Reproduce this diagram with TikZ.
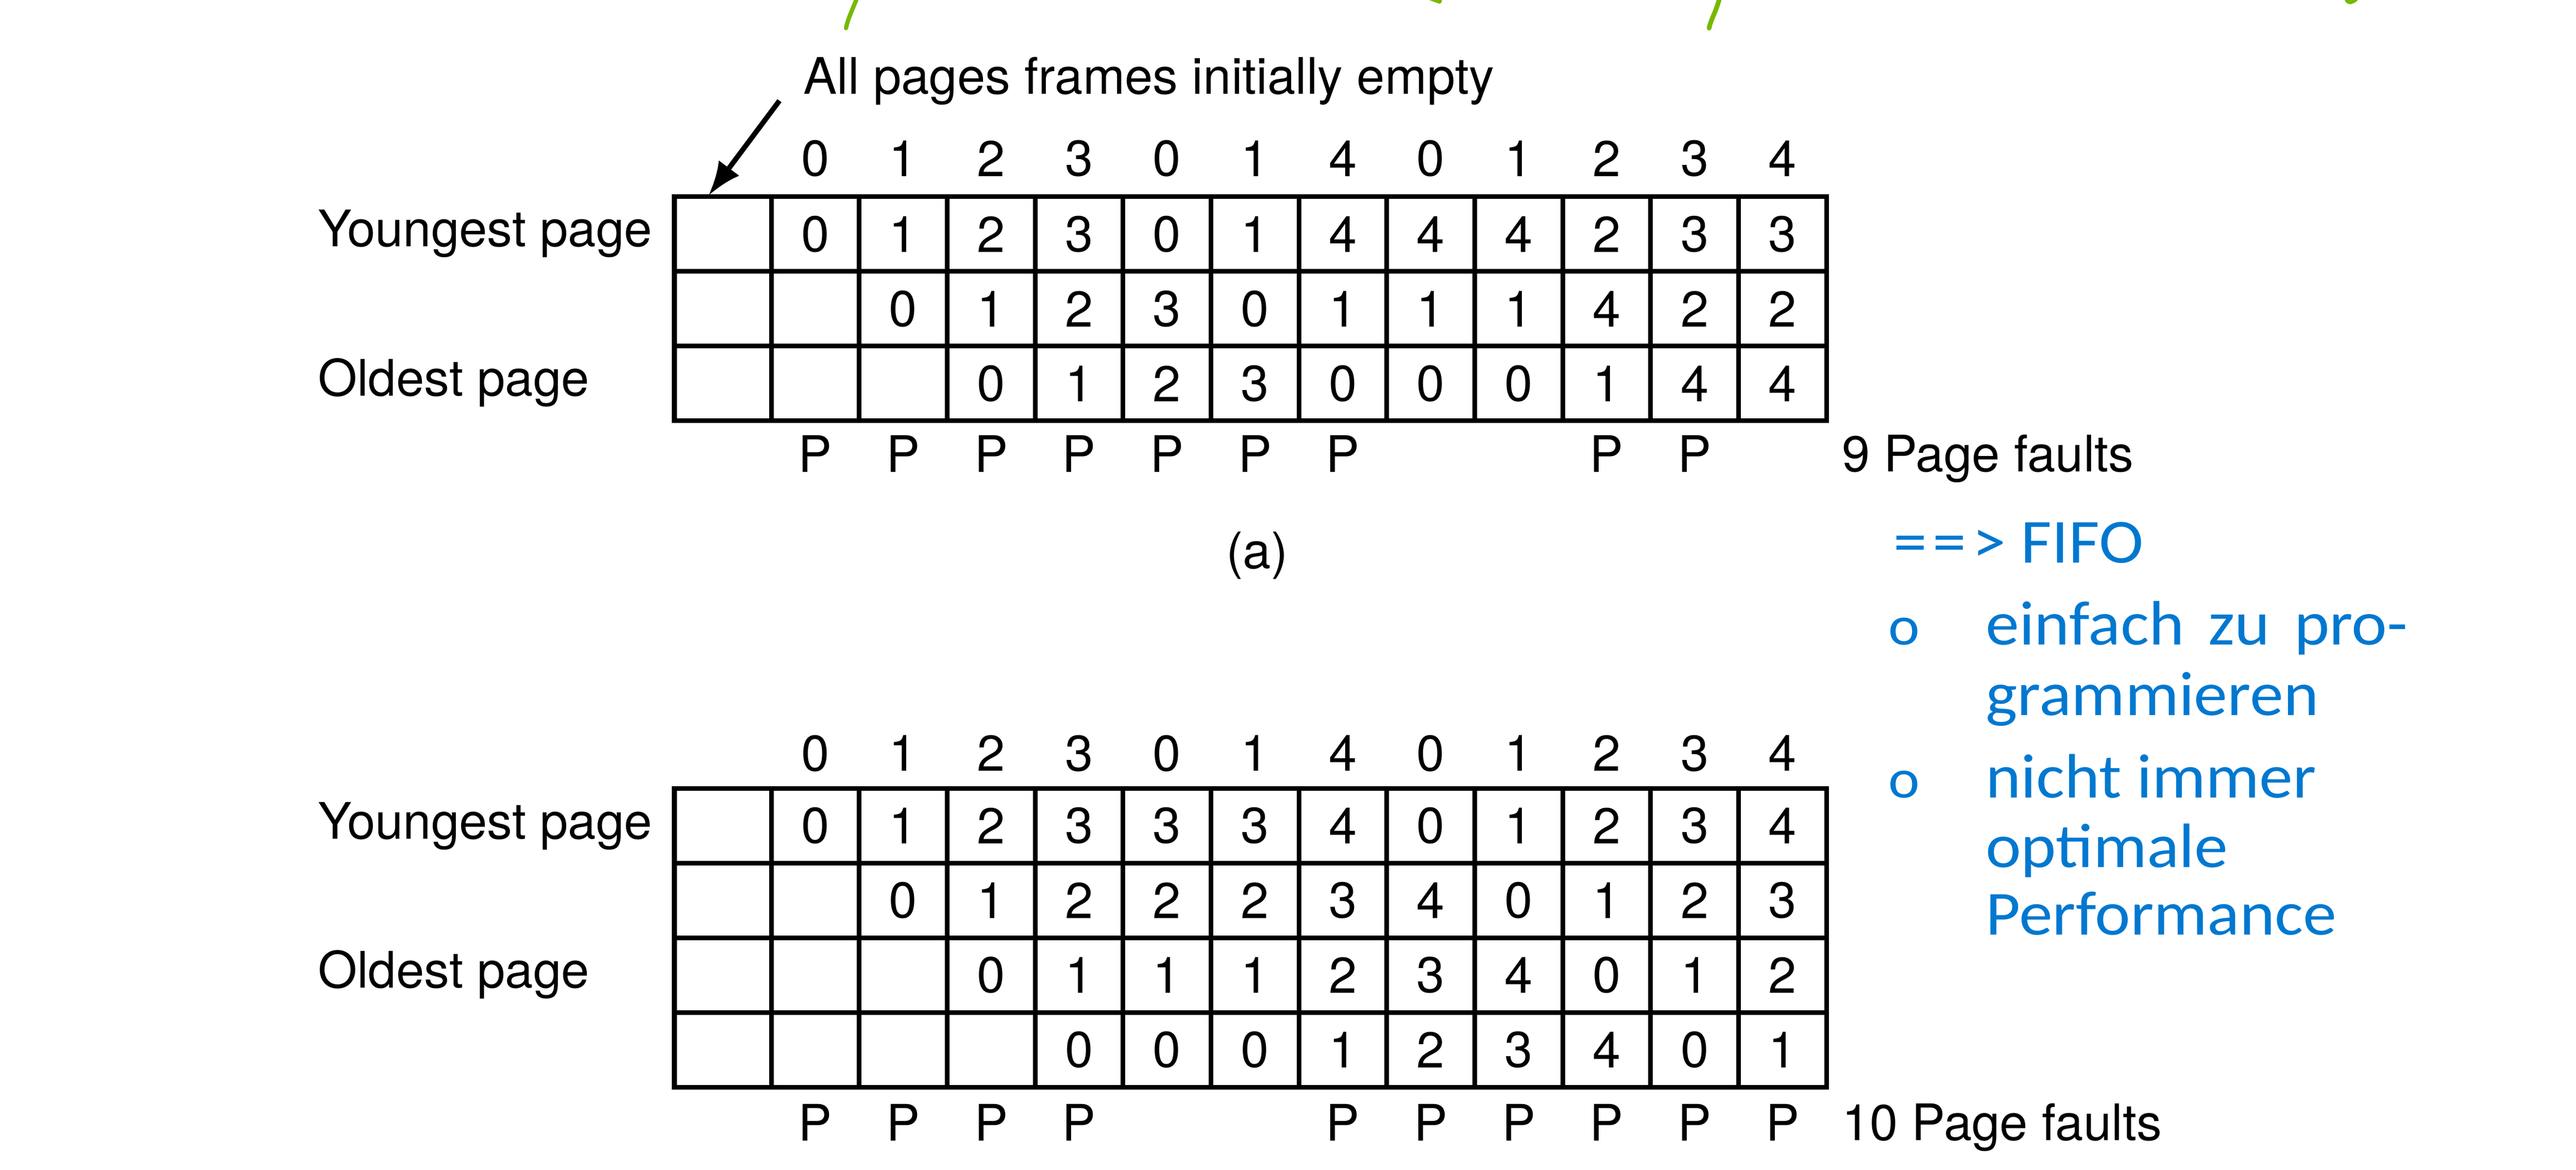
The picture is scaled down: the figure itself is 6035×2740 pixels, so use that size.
\documentclass[tikz,border=0pt]{standalone}
\usepackage{fontspec}
\setmainfont{TeX Gyre Heros}
\newfontfamily\bluefont[FakeStretch=1.07]{Carlito}
\usetikzlibrary{arrows.meta}
\definecolor{fifoblue}{RGB}{0,120,208}
\definecolor{markgreen}{RGB}{118,185,0}
\begin{document}
\begin{tikzpicture}[x=0.1pt,y=-0.1pt,
  grid/.style={line width=1.1pt, line join=miter},
  num/.style={inner sep=0pt, font=\fontsize{11.8}{14}\selectfont},
  lbl/.style={inner sep=0pt, anchor=base west, font=\fontsize{11.8}{14}\selectfont},
  bluetxt/.style={inner sep=0pt, anchor=base west, text=fifoblue, font=\fontsize{14.7}{17}\bluefont},
  bulletmark/.style={inner sep=0pt, anchor=base west, text=fifoblue, font=\fontsize{13}{15}\bluefont},
  greenmark/.style={fill=markgreen, draw=none},
  greenline/.style={draw=markgreen, line cap=round}]
\useasboundingbox (0,0) rectangle (6035,2740);
\clip (0,0) rectangle (6035,2740);

% green annotation strokes (cut off at the top)
\draw[greenline, line width=1pt] (2010,-10) .. controls (1996,25) and (1986,45) .. (1982,66);
\fill[greenmark] (3348,0) -- (3378,0) .. controls (3378,5) .. (3373,9) .. controls (3364,6) .. cycle;
\draw[greenline, line width=1.1pt] (4030,-10) .. controls (4020,30) and (4008,45) .. (4004,66);
\fill[greenmark] (5493,0) -- (5524,0) .. controls (5518,6) .. (5507,10) .. controls (5497,8) .. cycle;

% ---------------- table (a) ----------------
\node[lbl] (atitle) at (1880,220) {All pages frames initially empty};
\coordinate (arrs) at (1826,236);
\coordinate (arre) at (1660,458);
\draw[line width=1.2pt, -{Latex[length=8pt,width=6pt]}] (arrs) -- (arre);

\draw[grid] (1580,461) rectangle (4279,986);
\draw[grid] (1580,636) -- (4279,636) (1580,811) -- (4279,811);
\draw[grid] (1807,461) -- (1807,986);
\foreach \k in {1,...,11} \draw[grid] ({1807+206*\k},461) -- ({1807+206*\k},986);

\node[lbl] (ayoung) at (743,578) {Youngest page};
\node[lbl] (aold) at (743,928) {Oldest page};

\foreach \v [count=\c] in {0,1,2,3,0,1,4,0,1,2,3,4}
  \node[num] (ah\c) at ({1704+206*\c},371) {\v};
\foreach \v [count=\c] in {0,1,2,3,0,1,4,4,4,2,3,3}
  \node[num] (ar1c\c) at ({1704+206*\c},548.5) {\v};
\foreach \v [count=\c from 2] in {0,1,2,3,0,1,1,1,4,2,2}
  \node[num] (ar2c\c) at ({1704+206*\c},723.5) {\v};
\foreach \v [count=\c from 3] in {0,1,2,3,0,0,0,1,4,4}
  \node[num] (ar3c\c) at ({1704+206*\c},898.5) {\v};
\foreach \c in {1,2,3,4,5,6,7,10,11}
  \node[num] (ap\c) at ({1704+206*\c},1063) {P};
\node[lbl] (afaults) at (4313,1105) {9 Page faults};
\node[num] (acap) at (2945,1301) {(a)};

% ---------------- table (b) ----------------
\draw[grid] (1580,1847) rectangle (4279,2547);
\draw[grid] (1580,2022) -- (4279,2022) (1580,2197) -- (4279,2197) (1580,2372) -- (4279,2372);
\draw[grid] (1807,1847) -- (1807,2547);
\foreach \k in {1,...,11} \draw[grid] ({1807+206*\k},1847) -- ({1807+206*\k},2547);

\node[lbl] (byoung) at (743,1965) {Youngest page};
\node[lbl] (bold) at (743,2314) {Oldest page};

\foreach \v [count=\c] in {0,1,2,3,0,1,4,0,1,2,3,4}
  \node[num] (bh\c) at ({1704+206*\c},1765) {\v};
\foreach \v [count=\c] in {0,1,2,3,3,3,4,0,1,2,3,4}
  \node[num] (br1c\c) at ({1704+206*\c},1934.5) {\v};
\foreach \v [count=\c from 2] in {0,1,2,2,2,3,4,0,1,2,3}
  \node[num] (br2c\c) at ({1704+206*\c},2109.5) {\v};
\foreach \v [count=\c from 3] in {0,1,1,1,2,3,4,0,1,2}
  \node[num] (br3c\c) at ({1704+206*\c},2284.5) {\v};
\foreach \v [count=\c from 4] in {0,0,0,1,2,3,4,0,1}
  \node[num] (br4c\c) at ({1704+206*\c},2459.5) {\v};
\foreach \c in {1,2,3,4,7,8,9,10,11,12}
  \node[num] (bp\c) at ({1704+206*\c},2630) {P};
\node[lbl] (bfaults) at (4313,2672) {10 Page faults};

% ---------------- blue notes ----------------
\node[bluetxt] (fifo) at (4434,1319) {={\kern1.4pt}={\kern1.4pt}>\ FIFO};
\node[bulletmark] (bul1) at (4422,1510) {o};
\node[bluetxt] (n1a) at (4650,1510) {\makebox[98.9pt][s]{einfach zu pro-}};
\node[bluetxt] (n1b) at (4650,1676) {grammieren};
\node[bulletmark] (bul2) at (4422,1869) {o};
\node[bluetxt] (n2a) at (4650,1869) {nicht immer};
\node[bluetxt] (n2b) at (4650,2032) {optimale};
\node[bluetxt] (n2c) at (4650,2190) {Performance};
\end{tikzpicture}
\end{document}
